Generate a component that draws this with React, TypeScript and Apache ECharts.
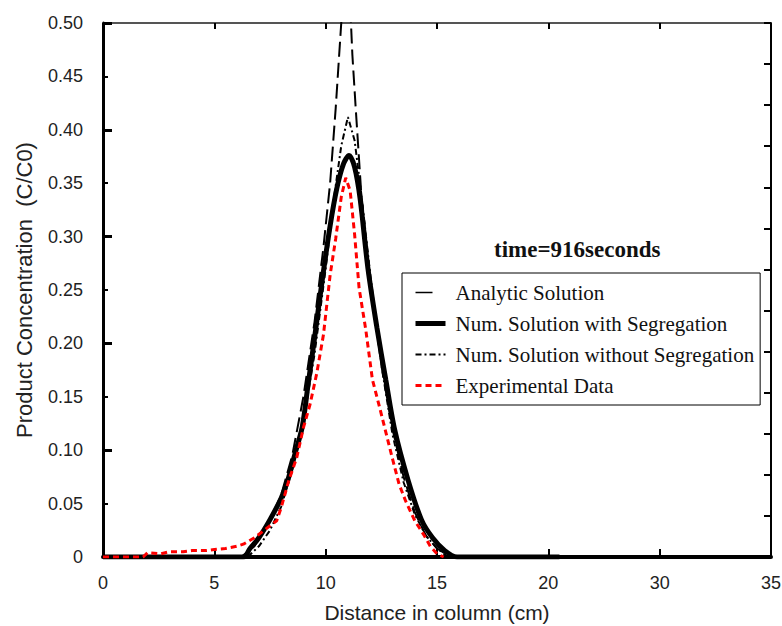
import React, { useEffect, useRef } from "react";
import * as echarts from "echarts";

const xTickLabels = ["0", "5", "10", "15", "20", "30", "35"];

const analyticX = [0, 0.05, 6.2, 6.8, 7.4, 8.0, 8.5, 9.0, 9.5, 9.9, 10.2, 10.45, 10.7, 10.9, 11.05, 11.2, 11.35, 11.6, 12.0, 12.5, 13.0, 13.5, 14.0, 14.5, 15.0, 15.6, 20.5];
const analyticY = [0.016, 0, 0, 0.01, 0.03, 0.058, 0.095, 0.15, 0.22, 0.29, 0.35, 0.42, 0.5, 0.56, 0.54, 0.47, 0.42, 0.34, 0.26, 0.18, 0.12, 0.075, 0.042, 0.02, 0.008, 0, 0];

const segX = [0, 6.3, 6.6, 7.0, 7.5, 8.0, 8.3, 8.6, 8.95, 9.2, 9.5, 9.85, 10.2, 10.5, 10.8, 11.05, 11.3, 11.55, 11.9, 12.3, 12.7, 13.1, 13.7, 14.3, 14.8, 15.35, 15.9, 20.5];
const segY = [0, 0, 0.008, 0.018, 0.035, 0.055, 0.072, 0.095, 0.122, 0.16, 0.205, 0.26, 0.31, 0.345, 0.368, 0.376, 0.365, 0.335, 0.27, 0.215, 0.166, 0.119, 0.072, 0.035, 0.018, 0.006, 0, 0];

const noSegX = [6.5, 7.0, 7.5, 8.0, 8.5, 9.0, 9.5, 10.0, 10.4, 10.7, 11.0, 11.3, 11.6, 12.0, 12.5, 13.0, 13.5, 14.0, 14.5, 15.0, 15.5];
const noSegY = [0, 0.01, 0.025, 0.047, 0.082, 0.127, 0.19, 0.27, 0.34, 0.385, 0.412, 0.39, 0.34, 0.265, 0.18, 0.115, 0.07, 0.04, 0.02, 0.008, 0];

const expX = [0, 1.8, 2.0, 2.6, 3.0, 3.6, 4.0, 4.6, 5.0, 5.5, 6.0, 6.3, 6.8, 7.3, 7.8, 8.0, 8.35, 8.7, 9.0, 9.3, 9.6, 9.9, 10.2, 10.45, 10.7, 10.9, 11.1, 11.3, 11.5, 11.8, 12.1, 12.4, 12.7, 13.0, 13.3, 13.6, 14.0, 14.4, 14.7, 15.0, 15.3];
const expY = [0, 0, 0.004, 0.003, 0.005, 0.005, 0.006, 0.006, 0.007, 0.008, 0.01, 0.012, 0.018, 0.026, 0.034, 0.046, 0.072, 0.093, 0.121, 0.143, 0.172, 0.208, 0.264, 0.298, 0.337, 0.355, 0.343, 0.302, 0.252, 0.213, 0.166, 0.142, 0.117, 0.092, 0.068, 0.052, 0.034, 0.021, 0.01, 0.003, 0];

const pairs = (xs: number[], ys: number[]) => xs.map((x, i) => [x, ys[i]]);

const SANS = "Liberation Sans";
const SERIF = "Liberation Serif";

export default function App() {
  const ref = useRef<HTMLDivElement>(null);
  useEffect(() => {
    if (!ref.current) return;
    const chart = echarts.init(ref.current, null, { renderer: "svg" });
    chart.setOption({
      animation: false,
      backgroundColor: "#fff",
      grid: { left: 103, right: 11, top: 23, bottom: 69, outerBoundsMode: "none", containLabel: false },
      xAxis: [
        {
          type: "value",
          position: "bottom",
          min: 0,
          max: 30,
          interval: 5,
          splitLine: { show: false },
          axisLine: { show: true, onZero: false, lineStyle: { color: "#000", width: 4 } },
          axisTick: { show: true, inside: true, length: 8, lineStyle: { color: "#000", width: 2 } },
          axisLabel: {
            margin: 17,
            fontSize: 18,
            fontFamily: SANS,
            color: "#222",
            showMinLabel: true,
            showMaxLabel: true,
            formatter: (v: number) => xTickLabels[Math.round(v / 5)] ?? "",
          },
          name: "Distance in column (cm)",
          nameLocation: "middle",
          nameGap: 45,
          nameTextStyle: { fontSize: 21, fontFamily: SANS, color: "#222" },
        },
        {
          type: "value",
          position: "top",
          min: 0,
          max: 30,
          interval: 5,
          splitLine: { show: false },
          axisLine: { show: true, onZero: false, lineStyle: { color: "#555", width: 2 } },
          axisTick: { show: true, inside: true, length: 6, lineStyle: { color: "#000", width: 2 } },
          axisLabel: { show: false },
        },
      ],
      yAxis: [
        {
          type: "value",
          position: "left",
          min: 0,
          max: 0.5,
          interval: 0.05,
          splitLine: { show: false },
          axisLine: { show: true, onZero: false, lineStyle: { color: "#000", width: 3 } },
          axisTick: { show: true, inside: true, length: 5, lineStyle: { color: "#000", width: 2 } },
          axisLabel: {
            margin: 20,
            fontSize: 18,
            fontFamily: SANS,
            color: "#222",
            showMaxLabel: true,
            formatter: (v: number) => (v === 0 ? "0" : v.toFixed(2)),
          },
          name: "Product Concentration  (C/C0)",
          nameLocation: "middle",
          nameGap: 68,
          nameTextStyle: { fontSize: 22, fontFamily: SANS, color: "#222" },
        },
        {
          type: "value",
          position: "right",
          min: 0,
          max: 13,
          interval: 1,
          splitLine: { show: false },
          axisLine: { show: true, onZero: false, lineStyle: { color: "#000", width: 2 } },
          axisTick: { show: true, inside: true, length: 7, lineStyle: { color: "#000", width: 2 } },
          axisLabel: { show: false },
        },
        {
          type: "value",
          position: "left",
          offset: 0,
          min: 0,
          max: 0.5,
          interval: 0.1,
          splitLine: { show: false },
          axisLine: { show: false, onZero: false },
          axisTick: { show: true, inside: true, length: 9, lineStyle: { color: "#000", width: 3 } },
          axisLabel: { show: false },
        },
      ],
      legend: {
        orient: "vertical",
        left: 402,
        top: 273,
        backgroundColor: "#fff",
        borderColor: "#000",
        borderWidth: 1,
        borderRadius: 0,
        padding: [9, 6, 9, 11],
        itemWidth: 30,
        itemHeight: 14,
        itemGap: 10,
        itemStyle: { opacity: 0 },
        textStyle: { fontFamily: SERIF, fontSize: 21, color: "#111", lineHeight: 20, padding: [0, 0, 0, 5] },
        data: [
          { name: "Analytic Solution", itemStyle: { opacity: 0 }, lineStyle: { color: "#000", width: 1.5, type: [17, 30] } },
          { name: "Num. Solution with Segregation", itemStyle: { opacity: 0 }, lineStyle: { color: "#000", width: 5, type: "solid" } },
          { name: "Num. Solution without Segregation", itemStyle: { opacity: 0 }, lineStyle: { color: "#000", width: 2, type: [6, 3, 2, 3] } },
          { name: "Experimental Data", itemStyle: { opacity: 0 }, lineStyle: { color: "#ff0000", width: 3, type: [6, 4] } },
        ],
      },
      graphic: [
        {
          type: "text",
          left: 494,
          top: 238,
          style: {
            text: "time=916seconds",
            fontFamily: SERIF,
            fontWeight: "bold",
            fontSize: 23,
            fill: "#111",
          },
        },
      ],
      series: [
        {
          name: "Analytic Solution",
          type: "line",
          symbol: "none",
          data: pairs(analyticX, analyticY),
          lineStyle: { color: "#000", width: 2, type: [15, 6] },
          itemStyle: { color: "#000" },
        },
        {
          name: "Num. Solution with Segregation",
          type: "line",
          symbol: "none",
          smooth: 0.3,
          data: pairs(segX, segY),
          lineStyle: { color: "#000", width: 5 },
          itemStyle: { color: "#000" },
        },
        {
          name: "Num. Solution without Segregation",
          type: "line",
          symbol: "none",
          data: pairs(noSegX, noSegY),
          lineStyle: { color: "#000", width: 2, type: [6, 3, 2, 3] },
          itemStyle: { color: "#000" },
        },
        {
          name: "Experimental Data",
          type: "line",
          symbol: "none",
          data: pairs(expX, expY),
          lineStyle: { color: "#ff0000", width: 3, type: [6, 4] },
          itemStyle: { color: "#ff0000" },
        },
        { name: "_frameA", type: "line", xAxisIndex: 1, yAxisIndex: 1, data: [], silent: true },
        { name: "_frameB", type: "line", xAxisIndex: 0, yAxisIndex: 2, data: [], silent: true },
      ],
    });
    return () => chart.dispose();
  }, []);
  return <div ref={ref} style={{ position: "fixed", left: 0, top: 0, width: 782, height: 626, background: "#fff" }} />;
}
